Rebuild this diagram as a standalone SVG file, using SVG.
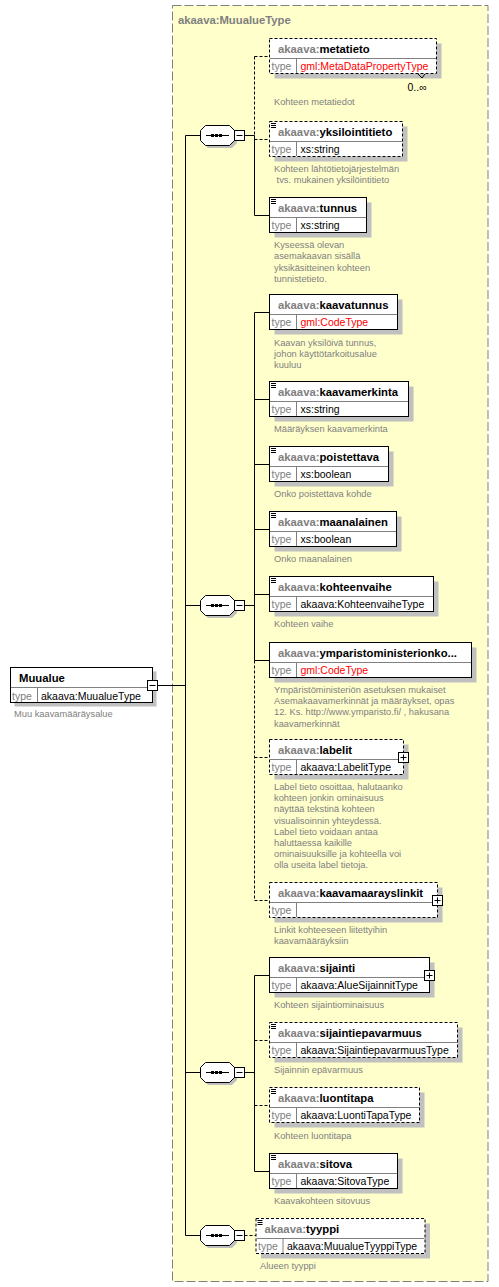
<svg xmlns="http://www.w3.org/2000/svg" width="499" height="1287" viewBox="0 0 499 1287">
<style>
text{font-family:"Liberation Sans",Arial,sans-serif}
.bx{fill:#fff;stroke:#000;stroke-width:1}
.d{stroke-dasharray:3 2}
.sh{fill:#c0c0c0}
.dv{stroke:#808080;stroke-width:1;fill:none}
.ln{stroke:#000;stroke-width:1;fill:none}
.hd{font-weight:bold;font-size:11.3px;fill:#000}
.ns{fill:#808080}
.tl{font-size:10.5px;fill:#808080}
.tv{font-size:10.5px;fill:#000}
.red{fill:#f00}
.doc{font-size:9.3px;fill:#808080}
.ic{stroke:#000;stroke-width:1}
</style>
<defs>
<g id="oct">
<path class="sh" d="M208,128 H232 L237,133 V143 L232,148 H208 L203,143 V133 Z"/>
<path class="bx" d="M205.5,125.5 H229.5 L234.5,130.5 V140.5 L229.5,145.5 H205.5 L200.5,140.5 V130.5 Z"/>
<line class="ln" x1="206" y1="135.5" x2="229" y2="135.5"/>
<rect x="211" y="134" width="3" height="3" fill="#000"/>
<rect x="215" y="134" width="3" height="3" fill="#000"/>
<rect x="219" y="134" width="3" height="3" fill="#000"/>
<rect class="bx" x="234.5" y="130.5" width="10" height="10"/>
<line class="ln" x1="236.5" y1="135.5" x2="242.5" y2="135.5"/>
</g>
<g id="plus">
<rect class="bx" x="0.5" y="0.5" width="10" height="10"/>
<line class="ln" x1="2.5" y1="5.5" x2="8.5" y2="5.5"/>
<line class="ln" x1="5.5" y1="2.5" x2="5.5" y2="8.5"/>
</g>
<path id="menu" class="ic" d="M271,40.5 h5 M271,42.5 h5 M271,44.5 h5"/>
</defs>

<g id="type-box">
<rect x="172.5" y="5.5" width="315.5" height="1276" fill="#ffffcc" stroke="#808080" stroke-dasharray="9 3"/>
<text x="178" y="24" class="hd ns">akaava:MuualueType</text>
</g>

<g id="connectors">
<line class="ln" x1="157.5" y1="685.5" x2="185.5" y2="685.5"/>
<line class="ln" x1="185.5" y1="135.5" x2="185.5" y2="1235.5"/>
<line class="ln" x1="185.5" y1="135.5" x2="200.5" y2="135.5"/>
<line class="ln" x1="185.5" y1="605.5" x2="200.5" y2="605.5"/>
<line class="ln" x1="185.5" y1="1072.5" x2="200.5" y2="1072.5"/>
<line class="ln" x1="185.5" y1="1235.5" x2="200.5" y2="1235.5"/>
<line class="ln" x1="244.5" y1="135.5" x2="254.5" y2="135.5"/>
<line class="ln" x1="244.5" y1="605.5" x2="254.5" y2="605.5"/>
<line class="ln" x1="244.5" y1="1072.5" x2="254.5" y2="1072.5"/>
<line class="ln d" x1="244.5" y1="1235.5" x2="256" y2="1235.5"/>
<line class="ln d" x1="254.5" y1="56.5" x2="254.5" y2="135.5"/>
<line class="ln" x1="254.5" y1="135.5" x2="254.5" y2="215.5"/>
<line class="ln d" x1="254.5" y1="56.5" x2="269.5" y2="56.5"/>
<line class="ln d" x1="254.5" y1="139.5" x2="269.5" y2="139.5"/>
<line class="ln" x1="254.5" y1="215.5" x2="269.5" y2="215.5"/>
<line class="ln" x1="254.5" y1="312.5" x2="254.5" y2="660.5"/>
<line class="ln d" x1="254.5" y1="660.5" x2="254.5" y2="900.5"/>
<line class="ln" x1="254.5" y1="312.5" x2="269.5" y2="312.5"/>
<line class="ln" x1="254.5" y1="399.5" x2="269.5" y2="399.5"/>
<line class="ln" x1="254.5" y1="464.5" x2="269.5" y2="464.5"/>
<line class="ln" x1="254.5" y1="529.5" x2="269.5" y2="529.5"/>
<line class="ln" x1="254.5" y1="594.5" x2="269.5" y2="594.5"/>
<line class="ln" x1="254.5" y1="660.5" x2="269.5" y2="660.5"/>
<line class="ln d" x1="254.5" y1="757.5" x2="269.5" y2="757.5"/>
<line class="ln d" x1="254.5" y1="900.5" x2="269.5" y2="900.5"/>
<line class="ln" x1="254.5" y1="975.5" x2="254.5" y2="1171.5"/>
<line class="ln" x1="254.5" y1="975.5" x2="269.5" y2="975.5"/>
<line class="ln d" x1="254.5" y1="1040.5" x2="269.5" y2="1040.5"/>
<line class="ln d" x1="254.5" y1="1105.5" x2="269.5" y2="1105.5"/>
<line class="ln" x1="254.5" y1="1171.5" x2="269.5" y2="1171.5"/>
</g>

<g id="Muualue">
<rect class="sh" x="14.5" y="671.5" width="142" height="35"/>
<rect class="bx" x="10.5" y="667.5" width="142" height="35"/>
<line class="dv" x1="11" y1="687.5" x2="152" y2="687.5"/>
<line class="dv" x1="37.5" y1="688" x2="37.5" y2="702"/>
<text class="hd" x="19" y="682">Muualue</text>
<text class="tl" x="12" y="699.5">type</text>
<text class="tv" x="41" y="699.5">akaava:MuualueType</text>
<rect class="bx" x="147.5" y="680.5" width="10" height="10"/>
<line class="ln" x1="149.5" y1="685.5" x2="155.5" y2="685.5"/>
<text class="doc" x="14" y="717">Muu kaavamääräysalue</text>
</g>

<g id="seq1"><use href="#oct"/></g>
<g id="seq2"><use href="#oct" y="470"/></g>
<g id="seq3"><use href="#oct" y="937"/></g>
<g id="seq4"><use href="#oct" y="1100"/></g>

<g id="metatieto">
<rect class="sh" x="274.5" y="43.5" width="167" height="35"/>
<rect class="bx d" x="269.5" y="38.5" width="167" height="35"/>
<line class="dv" x1="270" y1="58.5" x2="436" y2="58.5"/>
<line class="dv" x1="296.5" y1="59" x2="296.5" y2="73"/>
<text class="hd" x="278" y="52.5"><tspan class="ns">akaava:</tspan>metatieto</text>
<text class="tl" x="271.5" y="70">type</text>
<text class="tv red" x="300.5" y="70">gml:MetaDataPropertyType</text>
<path class="ln" d="M418,74 l4,4 l3,-4"/>
<text class="tv" x="407.5" y="91">0..∞</text>
<text class="doc" x="274" y="105">Kohteen metatiedot</text>
</g>

<g id="yksilointitieto">
<rect class="sh" x="274.5" y="126.5" width="133" height="35"/>
<rect class="bx d" x="269.5" y="121.5" width="133" height="35"/>
<line class="dv" x1="270" y1="141.5" x2="402" y2="141.5"/>
<line class="dv" x1="296.5" y1="142" x2="296.5" y2="156"/>
<use href="#menu" y="83"/>
<text class="hd" x="278" y="135.5"><tspan class="ns">akaava:</tspan>yksilointitieto</text>
<text class="tl" x="271.5" y="153">type</text>
<text class="tv" x="300.5" y="153">xs:string</text>
<text class="doc" x="274" y="172">Kohteen lähtötietojärjestelmän</text>
<text class="doc" x="276.6" y="183.4">tvs. mukainen yksilöintitieto</text>
</g>

<g id="tunnus">
<rect class="sh" x="274.5" y="202.5" width="97" height="35"/>
<rect class="bx" x="269.5" y="197.5" width="97" height="35"/>
<line class="dv" x1="270" y1="217.5" x2="366" y2="217.5"/>
<line class="dv" x1="296.5" y1="218" x2="296.5" y2="232"/>
<use href="#menu" y="159"/>
<text class="hd" x="278" y="211.5"><tspan class="ns">akaava:</tspan>tunnus</text>
<text class="tl" x="271.5" y="229">type</text>
<text class="tv" x="300.5" y="229">xs:string</text>
<text class="doc" x="274" y="248">Kyseessä olevan</text>
<text class="doc" x="274" y="259.4">asemakaavan sisällä</text>
<text class="doc" x="274" y="270.8">yksikäsitteinen kohteen</text>
<text class="doc" x="274" y="282.2">tunnistetieto.</text>
</g>

<g id="kaavatunnus">
<rect class="sh" x="274.5" y="299.5" width="128" height="35"/>
<rect class="bx" x="269.5" y="294.5" width="128" height="35"/>
<line class="dv" x1="270" y1="314.5" x2="397" y2="314.5"/>
<line class="dv" x1="296.5" y1="315" x2="296.5" y2="329"/>
<text class="hd" x="278" y="308.5"><tspan class="ns">akaava:</tspan>kaavatunnus</text>
<text class="tl" x="271.5" y="326">type</text>
<text class="tv red" x="300.5" y="326">gml:CodeType</text>
<text class="doc" x="274" y="345.5">Kaavan yksilöivä tunnus,</text>
<text class="doc" x="274" y="356.9">johon käyttötarkoitusalue</text>
<text class="doc" x="274" y="368.3">kuuluu</text>
</g>

<g id="kaavamerkinta">
<rect class="sh" x="274.5" y="386.5" width="139" height="35"/>
<rect class="bx" x="269.5" y="381.5" width="139" height="35"/>
<line class="dv" x1="270" y1="401.5" x2="408" y2="401.5"/>
<line class="dv" x1="296.5" y1="402" x2="296.5" y2="416"/>
<use href="#menu" y="343"/>
<text class="hd" x="278" y="395.5"><tspan class="ns">akaava:</tspan>kaavamerkinta</text>
<text class="tl" x="271.5" y="413">type</text>
<text class="tv" x="300.5" y="413">xs:string</text>
<text class="doc" x="274" y="432">Määräyksen kaavamerkinta</text>
</g>

<g id="poistettava">
<rect class="sh" x="274.5" y="451.5" width="119" height="35"/>
<rect class="bx" x="269.5" y="446.5" width="119" height="35"/>
<line class="dv" x1="270" y1="466.5" x2="388" y2="466.5"/>
<line class="dv" x1="296.5" y1="467" x2="296.5" y2="481"/>
<use href="#menu" y="408"/>
<text class="hd" x="278" y="460.5"><tspan class="ns">akaava:</tspan>poistettava</text>
<text class="tl" x="271.5" y="478">type</text>
<text class="tv" x="300.5" y="478">xs:boolean</text>
<text class="doc" x="274" y="497">Onko poistettava kohde</text>
</g>

<g id="maanalainen">
<rect class="sh" x="274.5" y="516.5" width="127" height="35"/>
<rect class="bx" x="269.5" y="511.5" width="127" height="35"/>
<line class="dv" x1="270" y1="531.5" x2="396" y2="531.5"/>
<line class="dv" x1="296.5" y1="532" x2="296.5" y2="546"/>
<use href="#menu" y="473"/>
<text class="hd" x="278" y="525.5"><tspan class="ns">akaava:</tspan>maanalainen</text>
<text class="tl" x="271.5" y="543">type</text>
<text class="tv" x="300.5" y="543">xs:boolean</text>
<text class="doc" x="274" y="562">Onko maanalainen</text>
</g>

<g id="kohteenvaihe">
<rect class="sh" x="274.5" y="581.5" width="164" height="35"/>
<rect class="bx" x="269.5" y="576.5" width="164" height="35"/>
<line class="dv" x1="270" y1="596.5" x2="433" y2="596.5"/>
<line class="dv" x1="296.5" y1="597" x2="296.5" y2="611"/>
<use href="#menu" y="538"/>
<text class="hd" x="278" y="590.5"><tspan class="ns">akaava:</tspan>kohteenvaihe</text>
<text class="tl" x="271.5" y="608">type</text>
<text class="tv" x="300.5" y="608">akaava:KohteenvaiheType</text>
<text class="doc" x="274" y="627">Kohteen vaihe</text>
</g>

<g id="ymparistoministerionkoodi">
<rect class="sh" x="274.5" y="647.5" width="202" height="35"/>
<rect class="bx" x="269.5" y="642.5" width="202" height="35"/>
<line class="dv" x1="270" y1="662.5" x2="471" y2="662.5"/>
<line class="dv" x1="296.5" y1="663" x2="296.5" y2="677"/>
<text class="hd" x="278" y="656.5"><tspan class="ns">akaava:</tspan>ymparistoministerionko...</text>
<text class="tl" x="271.5" y="674">type</text>
<text class="tv red" x="300.5" y="674">gml:CodeType</text>
<text class="doc" x="274" y="692.5">Ympäristöministeriön asetuksen mukaiset</text>
<text class="doc" x="274" y="703.9">Asemakaavamerkinnät ja määräykset, opas</text>
<text class="doc" x="274" y="715.3">12. Ks. http://www.ymparisto.fi/ , hakusana</text>
<text class="doc" x="274" y="726.7">kaavamerkinnät</text>
</g>

<g id="labelit">
<rect class="sh" x="274.5" y="744.5" width="134" height="35"/>
<rect class="bx d" x="269.5" y="739.5" width="134" height="35"/>
<line class="dv" x1="270" y1="759.5" x2="403" y2="759.5"/>
<line class="dv" x1="296.5" y1="760" x2="296.5" y2="774"/>
<text class="hd" x="278" y="753.5"><tspan class="ns">akaava:</tspan>labelit</text>
<text class="tl" x="271.5" y="771">type</text>
<text class="tv" x="300.5" y="771">akaava:LabelitType</text>
<use href="#plus" x="398" y="752"/>
<text class="doc" x="274" y="790">Label tieto osoittaa, halutaanko</text>
<text class="doc" x="274" y="801.2">kohteen jonkin ominaisuus</text>
<text class="doc" x="274" y="812.4">näyttää tekstinä kohteen</text>
<text class="doc" x="274" y="823.6">visualisoinnin yhteydessä.</text>
<text class="doc" x="274" y="834.8">Label tieto voidaan antaa</text>
<text class="doc" x="274" y="846">haluttaessa kaikille</text>
<text class="doc" x="274" y="857.2">ominaisuuksille ja kohteella voi</text>
<text class="doc" x="274" y="868.4">olla useita label tietoja.</text>
</g>

<g id="kaavamaarayslinkit">
<rect class="sh" x="274.5" y="887.5" width="168" height="35"/>
<rect class="bx d" x="269.5" y="882.5" width="168" height="35"/>
<line class="dv" x1="270" y1="902.5" x2="437" y2="902.5"/>
<line class="dv" x1="296.5" y1="903" x2="296.5" y2="917"/>
<text class="hd" x="278" y="896.5"><tspan class="ns">akaava:</tspan>kaavamaarayslinkit</text>
<text class="tl" x="271.5" y="914">type</text>
<use href="#plus" x="432" y="895"/>
<text class="doc" x="274" y="933">Linkit kohteeseen liitettyihin</text>
<text class="doc" x="274" y="944.3">kaavamääräyksiin</text>
</g>

<g id="sijainti">
<rect class="sh" x="274.5" y="962.5" width="160" height="35"/>
<rect class="bx" x="269.5" y="957.5" width="160" height="35"/>
<line class="dv" x1="270" y1="977.5" x2="429" y2="977.5"/>
<line class="dv" x1="296.5" y1="978" x2="296.5" y2="992"/>
<text class="hd" x="278" y="971.5"><tspan class="ns">akaava:</tspan>sijainti</text>
<text class="tl" x="271.5" y="989">type</text>
<text class="tv" x="300.5" y="989">akaava:AlueSijainnitType</text>
<use href="#plus" x="424" y="970"/>
<text class="doc" x="274" y="1008">Kohteen sijaintiominaisuus</text>
</g>

<g id="sijaintiepavarmuus">
<rect class="sh" x="274.5" y="1027.5" width="188" height="35"/>
<rect class="bx d" x="269.5" y="1022.5" width="188" height="35"/>
<line class="dv" x1="270" y1="1042.5" x2="457" y2="1042.5"/>
<line class="dv" x1="296.5" y1="1043" x2="296.5" y2="1057"/>
<use href="#menu" y="984"/>
<text class="hd" x="278" y="1036.5"><tspan class="ns">akaava:</tspan>sijaintiepavarmuus</text>
<text class="tl" x="271.5" y="1054">type</text>
<text class="tv" x="300.5" y="1054">akaava:SijaintiepavarmuusType</text>
<text class="doc" x="274" y="1073">Sijainnin epävarmuus</text>
</g>

<g id="luontitapa">
<rect class="sh" x="274.5" y="1092.5" width="150" height="35"/>
<rect class="bx d" x="269.5" y="1087.5" width="150" height="35"/>
<line class="dv" x1="270" y1="1107.5" x2="419" y2="1107.5"/>
<line class="dv" x1="296.5" y1="1108" x2="296.5" y2="1122"/>
<use href="#menu" y="1049"/>
<text class="hd" x="278" y="1101.5"><tspan class="ns">akaava:</tspan>luontitapa</text>
<text class="tl" x="271.5" y="1119">type</text>
<text class="tv" x="300.5" y="1119">akaava:LuontiTapaType</text>
<text class="doc" x="274" y="1138.5">Kohteen luontitapa</text>
</g>

<g id="sitova">
<rect class="sh" x="274.5" y="1158.5" width="128" height="35"/>
<rect class="bx" x="269.5" y="1153.5" width="128" height="35"/>
<line class="dv" x1="270" y1="1173.5" x2="397" y2="1173.5"/>
<line class="dv" x1="296.5" y1="1174" x2="296.5" y2="1188"/>
<use href="#menu" y="1115"/>
<text class="hd" x="278" y="1167.5"><tspan class="ns">akaava:</tspan>sitova</text>
<text class="tl" x="271.5" y="1185">type</text>
<text class="tv" x="300.5" y="1185">akaava:SitovaType</text>
<text class="doc" x="274" y="1204">Kaavakohteen sitovuus</text>
</g>

<g id="tyyppi">
<rect class="sh" x="261" y="1223.5" width="169" height="35"/>
<rect class="bx d" x="256" y="1218.5" width="169" height="35"/>
<line class="dv" x1="256.5" y1="1238.5" x2="424.5" y2="1238.5"/>
<line class="dv" x1="283" y1="1239" x2="283" y2="1253"/>
<use href="#menu" x="-13.5" y="1180"/>
<text class="hd" x="264.5" y="1232.5"><tspan class="ns">akaava:</tspan>tyyppi</text>
<text class="tl" x="258" y="1250">type</text>
<text class="tv" x="287" y="1250">akaava:MuualueTyyppiType</text>
<text class="doc" x="260" y="1269">Alueen tyyppi</text>
</g>
</svg>
